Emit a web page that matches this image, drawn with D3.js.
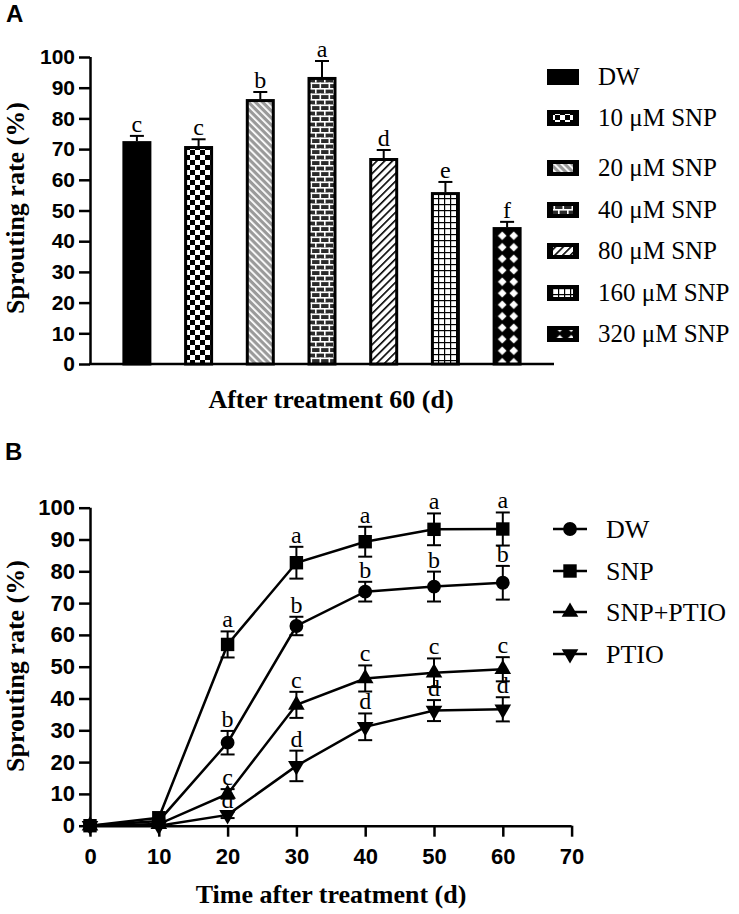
<!DOCTYPE html>
<html><head><meta charset="utf-8">
<script src="https://cdn.jsdelivr.net/npm/d3@7"></script>
<style>
body{margin:0;background:#fff}
svg{display:block}
.tick text{font-family:"Liberation Sans",Arial,sans-serif;font-weight:bold;fill:#000}
</style></head>
<body>
<svg id="c" width="739" height="914"></svg>
<script>
// ---------- Data ----------
const treatmentsA = ["DW","10 μM SNP","20 μM SNP","40 μM SNP","80 μM SNP","160 μM SNP","320 μM SNP"];
const sproutA = [72.6, 71.0, 86.3, 93.5, 67.1, 56.0, 44.6];
const errA    = [1.7, 2.2, 2.3, 5.2, 2.6, 3.3, 1.7];
const lettersA = ["c","c","b","a","d","e","f"];
const patternsA = ["solid","checker","grayDiag","brick","diag","grid","diamond"];

const days = [0,10,20,30,40,50,60];
const seriesB = ["DW","SNP","SNP+PTIO","PTIO"];
const dwVals   = [0, 1.5, 26.1, 62.8, 73.6, 75.2, 76.4];
const dwErr    = [0, 0.5, 3.7, 2.9, 3.1, 4.7, 5.3];
const snpVals  = [0, 2.5, 57.0, 82.7, 89.3, 93.2, 93.3];
const snpErr   = [0, 0.5, 4.1, 5.0, 4.7, 5.0, 5.2];
const sptVals  = [0, 0.5, 10.0, 38.0, 46.3, 48.1, 49.2];
const sptErr   = [0, 0.3, 1.5, 4.1, 4.1, 4.5, 3.8];
const ptioVals = [0, 0, 3.4, 18.8, 31.1, 36.2, 36.6];
const ptioErr  = [0, 0, 1.0, 4.8, 4.2, 3.3, 3.8];
const dwLet   = ["","","b","b","b","b","b"];
const snpLet  = ["","","a","a","a","a","a"];
const sptLet  = ["","","c","c","c","c","c"];
const ptioLet = ["","","d","d","d","d","d"];
const yTicks = [0,10,20,30,40,50,60,70,80,90,100];
const xTicksB = [0,10,20,30,40,50,60,70];

const SERIF = '"Liberation Serif","Times New Roman",serif';
const SANS = '"Liberation Sans",Arial,sans-serif';

const svg = d3.select("#c");
const defs = svg.append("defs");

// ---------- Patterns ----------
function pat(id, w, h, transform){
  const p = defs.append("pattern").attr("id", id).attr("patternUnits","userSpaceOnUse")
    .attr("width", w).attr("height", h);
  if (transform) p.attr("patternTransform", transform);
  return p;
}
{ const p = pat("checker", 10, 10);
  p.append("rect").attr("width",10).attr("height",10).attr("fill","#fff");
  p.append("rect").attr("width",5).attr("height",5).attr("fill","#000");
  p.append("rect").attr("x",5).attr("y",5).attr("width",5).attr("height",5).attr("fill","#000"); }
{ const p = pat("grayDiag", 5, 5, "rotate(-45)");
  p.append("rect").attr("width",5).attr("height",5).attr("fill","#9a9a9a");
  p.append("rect").attr("width",1.8).attr("height",5).attr("fill","#fff"); }
{ const p = pat("diag", 5.5, 5.5, "rotate(45)");
  p.append("rect").attr("width",5.5).attr("height",5.5).attr("fill","#fff");
  p.append("rect").attr("width",1.6).attr("height",5.5).attr("fill","#000"); }
{ const p = pat("brick", 18, 11);
  p.append("rect").attr("width",18).attr("height",11).attr("fill","#2b2b2b");
  p.append("rect").attr("y",0).attr("width",18).attr("height",1.6).attr("fill","#fff");
  p.append("rect").attr("y",5.5).attr("width",18).attr("height",1.6).attr("fill","#fff");
  p.append("rect").attr("x",0).attr("y",0).attr("width",1.6).attr("height",5.5).attr("fill","#fff");
  p.append("rect").attr("x",9).attr("y",0).attr("width",1.6).attr("height",5.5).attr("fill","#fff");
  p.append("rect").attr("x",4.5).attr("y",5.5).attr("width",1.6).attr("height",5.5).attr("fill","#fff");
  p.append("rect").attr("x",13.5).attr("y",5.5).attr("width",1.6).attr("height",5.5).attr("fill","#fff"); }
{ const p = pat("grid", 6, 6);
  p.append("rect").attr("width",6).attr("height",6).attr("fill","#fff");
  p.append("rect").attr("width",1.2).attr("height",6).attr("fill","#000");
  p.append("rect").attr("width",6).attr("height",1.2).attr("fill","#000"); }
{ const p = pat("diamond", 11.5, 11.5, "translate(2,0)");
  p.append("rect").attr("width",11.5).attr("height",11.5).attr("fill","#000");
  p.append("path").attr("d","M5.75,1.4 L10.1,5.75 L5.75,10.1 L1.4,5.75Z").attr("fill","#fff"); }
const fillFor = k => k === "solid" ? "#000" : `url(#${k})`;

// ---------- Panel A ----------
const gA = svg.append("g");
const yA = d3.scaleLinear().domain([0,100]).range([364,57]);
const xA = d3.scalePoint().domain(treatmentsA).range([90,554]).padding(0.76);
const barW = 29;

gA.append("text").text("A").attr("x",6).attr("y",22)
  .attr("font-family",SANS).attr("font-weight","bold").attr("font-size",24);

const axA = gA.append("g").attr("transform","translate(90,0)")
  .call(d3.axisLeft(yA).tickValues(yTicks).tickSize(11).tickSizeOuter(0).tickPadding(4));
axA.selectAll("path,line").attr("stroke","#000").attr("stroke-width",2.5);
axA.selectAll("text").attr("font-size",21).attr("font-family",SANS).attr("font-weight","bold");
axA.select(".domain").attr("d", `M0.5,${yA(0)}V${yA(100)}`);
gA.append("line").attr("x1",89).attr("x2",554).attr("y1",yA(0)).attr("y2",yA(0))
  .attr("stroke","#000").attr("stroke-width",2.5);

treatmentsA.forEach((t,i) => {
  const cx = xA(t), top = yA(sproutA[i]), et = yA(sproutA[i] + errA[i]);
  gA.append("line").attr("x1",cx).attr("x2",cx).attr("y1",top).attr("y2",et)
    .attr("stroke","#000").attr("stroke-width",2);
  gA.append("line").attr("x1",cx-7).attr("x2",cx+7).attr("y1",et).attr("y2",et)
    .attr("stroke","#000").attr("stroke-width",2);
  gA.append("rect").attr("x",cx-barW/2+1.5).attr("y",top+1.5)
    .attr("width",barW-3).attr("height",yA(0)-top-1.5)
    .attr("fill",fillFor(patternsA[i])).attr("stroke","#000").attr("stroke-width",3);
  gA.append("text").text(lettersA[i]).attr("x",cx).attr("y",et-4)
    .attr("text-anchor","middle").attr("font-family",SERIF).attr("font-size",24);
});

gA.append("text").text("Sprouting rate (%)")
  .attr("transform","translate(24,208) rotate(-90)").attr("text-anchor","middle")
  .attr("font-family",SERIF).attr("font-weight","bold").attr("font-size",26);
gA.append("text").text("After treatment 60 (d)").attr("x",331).attr("y",408)
  .attr("text-anchor","middle").attr("font-family",SERIF).attr("font-weight","bold").attr("font-size",26);

// legend A
const legAy = [77,118,168,210,251,293,334];
treatmentsA.forEach((t,i) => {
  const y = legAy[i];
  gA.append("rect").attr("x",547).attr("y",y-8).attr("width",32).attr("height",16).attr("fill","#000");
  if (patternsA[i] !== "solid")
    gA.append("rect").attr("x",553).attr("y",y-4).attr("width",20).attr("height",8)
      .attr("fill",fillFor(patternsA[i]));
  gA.append("text").text(t).attr("x",598).attr("y",y+8)
    .attr("font-family",SERIF).attr("font-size",25);
});

// ---------- Panel B ----------
const gB = svg.append("g");
const xB = d3.scaleLinear().domain([0,70]).range([90,571.6]);
const yB = d3.scaleLinear().domain([0,100]).range([825.7,507.7]);

gB.append("text").text("B").attr("x",5).attr("y",460)
  .attr("font-family",SANS).attr("font-weight","bold").attr("font-size",24);

const axBy = gB.append("g").attr("transform","translate(90,0)")
  .call(d3.axisLeft(yB).tickValues(yTicks).tickSize(11).tickSizeOuter(0).tickPadding(4));
const axBx = gB.append("g").attr("transform",`translate(0,${yB(0)})`)
  .call(d3.axisBottom(xB).tickValues(xTicksB).tickSize(11).tickSizeOuter(0).tickPadding(12));
[axBy, axBx].forEach(a => {
  a.selectAll("path,line").attr("stroke","#000").attr("stroke-width",2.5);
  a.selectAll("text").attr("font-size",22).attr("font-family",SANS).attr("font-weight","bold");
});
axBy.select(".domain").attr("d", `M0.5,${yB(0)+1}V${yB(100)}`);
axBx.select(".domain").attr("d", `M${xB(0)-1},0.5H${xB(70)}`);

const seriesData = [
  {name:"DW", vals:dwVals, err:dwErr, lets:dwLet, sym:d3.symbolCircle, size:150, rot:0},
  {name:"SNP", vals:snpVals, err:snpErr, lets:snpLet, sym:d3.symbolSquare, size:180, rot:0},
  {name:"SNP+PTIO", vals:sptVals, err:sptErr, lets:sptLet, sym:d3.symbolTriangle, size:120, rot:0},
  {name:"PTIO", vals:ptioVals, err:ptioErr, lets:ptioLet, sym:d3.symbolTriangle, size:120, rot:180}
];
const line = d3.line().x(d => xB(d[0])).y(d => yB(d[1]));

seriesData.forEach(s => {
  const pts = days.map((d,i) => [d, s.vals[i]]);
  gB.append("path").attr("d", line(pts)).attr("fill","none").attr("stroke","#000").attr("stroke-width",2.5);
  days.forEach((d,i) => {
    const cx = xB(d), e = s.err[i];
    if (e > 0.6) {
      const t = yB(s.vals[i]+e), b = yB(s.vals[i]-e);
      gB.append("line").attr("x1",cx).attr("x2",cx).attr("y1",t).attr("y2",b).attr("stroke","#000").attr("stroke-width",2);
      gB.append("line").attr("x1",cx-7).attr("x2",cx+7).attr("y1",t).attr("y2",t).attr("stroke","#000").attr("stroke-width",2);
      gB.append("line").attr("x1",cx-7).attr("x2",cx+7).attr("y1",b).attr("y2",b).attr("stroke","#000").attr("stroke-width",2);
    }
    gB.append("path").attr("d", d3.symbol(s.sym, s.size)())
      .attr("transform", `translate(${cx},${yB(s.vals[i])}) rotate(${s.rot})`).attr("fill","#000");
    if (s.lets[i])
      gB.append("text").text(s.lets[i]).attr("x",cx).attr("y",yB(s.vals[i]+e)-4)
        .attr("text-anchor","middle").attr("font-family",SERIF).attr("font-size",24);
  });
});

gB.append("text").text("Sprouting rate (%)")
  .attr("transform","translate(24,666) rotate(-90)").attr("text-anchor","middle")
  .attr("font-family",SERIF).attr("font-weight","bold").attr("font-size",26);
gB.append("text").text("Time after treatment (d)").attr("x",331).attr("y",903)
  .attr("text-anchor","middle").attr("font-family",SERIF).attr("font-weight","bold").attr("font-size",26);

// legend B
const legBy = [529,571,612,654];
seriesData.forEach((s,i) => {
  const y = legBy[i];
  gB.append("line").attr("x1",553).attr("x2",587).attr("y1",y).attr("y2",y).attr("stroke","#000").attr("stroke-width",2.5);
  gB.append("path").attr("d", d3.symbol(s.sym, s.size)())
    .attr("transform", `translate(570,${y}) rotate(${s.rot})`).attr("fill","#000");
  gB.append("text").text(s.name).attr("x",606).attr("y",y+9)
    .attr("font-family",SERIF).attr("font-size",26);
});
</script>
</body></html>
